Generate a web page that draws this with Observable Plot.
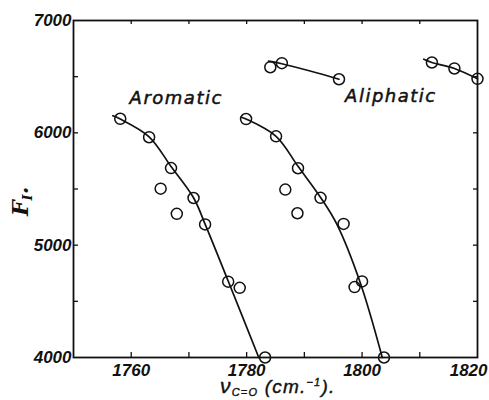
<!DOCTYPE html>
<html><head><meta charset="utf-8">
<script src="https://cdn.jsdelivr.net/npm/d3@7"></script>
<script src="https://cdn.jsdelivr.net/npm/@observablehq/plot@0.6"></script>
<style>
body{margin:0;background:#fff;}
#chart{width:489px;height:400px;}
</style>
</head><body><div id="chart"></div>
<script>
// Left falling series (labelled "Aromatic")
const seriesAV = [1758.1, 1763.1, 1766.9, 1765.1, 1770.8, 1767.9, 1772.8, 1776.8, 1778.8, 1783.2];
const seriesAF = [6125, 5961, 5686, 5503, 5420, 5279, 5185, 4675, 4620, 4000];
const curveAV = [1756.8, 1758.1, 1763.1, 1766.9, 1770.8, 1772.8, 1776.8, 1782.1];
const curveAF = [6152, 6123, 5965, 5700, 5422, 5188, 4681, 4000];
// Middle falling series
const seriesBV = [1779.9, 1785.1, 1788.9, 1786.7, 1792.8, 1788.8, 1796.8, 1798.7, 1800.0, 1803.8];
const seriesBF = [6123, 5969, 5685, 5495, 5421, 5284, 5189, 4627, 4677, 4000];
const curveBV = [1779.2, 1779.9, 1785.1, 1788.9, 1792.9, 1795.6, 1799.7, 1803.5];
const curveBF = [6137, 6123, 5969, 5702, 5418, 5189, 4663, 4000];
// Upper short series ("Aliphatic")
const seriesCV = [1784.1, 1786.1, 1796.0];
const seriesCF = [6584, 6620, 6477];
const curveCV = [1783.8, 1786.1, 1791.0, 1796.0];
const curveCF = [6638, 6615, 6550, 6477];
const seriesDV = [1812.1, 1816.0, 1820.0];
const seriesDF = [6626, 6573, 6481];
const curveDV = [1810.7, 1812.1, 1816.0, 1820.0];
const curveDF = [6655, 6626, 6573, 6481];
// Labels
const labelTexts = ["Aromatic", "Aliphatic"];
const labelV = [1767.8, 1805.0];
const labelF = [6310, 6322];
// Ticks
const xLabelTicks = [1760, 1780, 1800];
const xLastTick = [1820];
const yLabelTicks = [4000, 5000, 6000, 7000];
const xMinorTicks = [1760, 1770, 1780, 1790, 1800, 1810];
const yMinorTicks = [4500, 5000, 5500, 6000, 6500];

const zip = (V, F) => V.map((v, i) => ({v, F: F[i]}));
const ink = "#111";
const tickFont = {fontFamily: "Liberation Sans", fontSize: 17, fontWeight: "bold", fontStyle: "italic", fill: ink};

const chart = Plot.plot({
  width: 489, height: 400,
  marginLeft: 73, marginRight: 12, marginTop: 20, marginBottom: 43,
  x: {domain: [1750, 1820], axis: null},
  y: {domain: [4000, 7000]},
  style: {background: "#fff", color: ink},
  marks: [
    Plot.frame({stroke: ink, strokeWidth: 1.8}),
    Plot.tickX(xMinorTicks, {x: d => d, insetTop: 332, stroke: ink, strokeWidth: 1.3}),
    Plot.tickX(xMinorTicks, {x: d => d, insetBottom: 333, stroke: ink, strokeWidth: 1.3}),
    Plot.tickY(yMinorTicks, {y: d => d, insetRight: 399, stroke: ink, strokeWidth: 1.3}),
    Plot.tickY(yMinorTicks, {y: d => d, insetLeft: 400, stroke: ink, strokeWidth: 1.3}),
    Plot.line(zip(curveAV, curveAF), {x: "v", y: "F", curve: "catmull-rom", stroke: ink, strokeWidth: 1.7}),
    Plot.line(zip(curveBV, curveBF), {x: "v", y: "F", curve: "catmull-rom", stroke: ink, strokeWidth: 1.7}),
    Plot.line(zip(curveCV, curveCF), {x: "v", y: "F", curve: "catmull-rom", stroke: ink, strokeWidth: 1.7}),
    Plot.line(zip(curveDV, curveDF), {x: "v", y: "F", curve: "catmull-rom", stroke: ink, strokeWidth: 1.7}),
    Plot.dot(zip(seriesAV, seriesAF), {x: "v", y: "F", r: 5.5, stroke: ink, strokeWidth: 1.5, fill: "none"}),
    Plot.dot(zip(seriesBV, seriesBF), {x: "v", y: "F", r: 5.5, stroke: ink, strokeWidth: 1.5, fill: "none"}),
    Plot.dot(zip(seriesCV, seriesCF), {x: "v", y: "F", r: 5.5, stroke: ink, strokeWidth: 1.5, fill: "none"}),
    Plot.dot(zip(seriesDV, seriesDF), {x: "v", y: "F", r: 5.5, stroke: ink, strokeWidth: 1.5, fill: "none"}),
    Plot.text(labelTexts, {x: (d, i) => labelV[i], y: (d, i) => labelF[i], text: d => d,
      fontFamily: "DejaVu Sans", fontStyle: "oblique", fontSize: 18, fill: ink, stroke: ink, strokeWidth: 0.5}),
    Plot.text(xLabelTicks, {x: d => d, frameAnchor: "bottom", lineAnchor: "top", dy: 6, text: d => String(d), ...tickFont}),
    Plot.text(xLastTick, {x: d => d, frameAnchor: "bottom", lineAnchor: "top", dy: 6, dx: 10, textAnchor: "end", text: d => String(d), ...tickFont}),
    Plot.axisY({ticks: yLabelTicks, tickSize: 0, tickPadding: 2, label: null, tickFormat: d => String(d), ...tickFont})
  ]
});
document.getElementById("chart").appendChild(chart);

const svg = d3.select(chart);
svg.selectAll("text").filter(function() { return labelTexts.includes(this.textContent); })
  .style("letter-spacing", "1.5px");

// x-axis title
const xl = svg.append("text").attr("x", 220).attr("y", 393).attr("text-anchor", "start")
  .attr("font-family", "Liberation Sans").attr("font-style", "italic")
  .attr("font-size", 19).attr("fill", ink).attr("stroke", ink).attr("stroke-width", 0.4)
  .style("letter-spacing", "1.2px");
xl.append("tspan").text("ν").attr("font-size", 21);
xl.append("tspan").text("C=O").attr("font-size", 11).attr("dy", 3);
xl.append("tspan").text(" (cm.").attr("dy", -3);
xl.append("tspan").text("−1").attr("font-size", 11).attr("dy", -7);
xl.append("tspan").text(").").attr("dy", 7);

// y-axis title
const yl = svg.append("text").attr("transform", "translate(28,216) rotate(-90)").attr("text-anchor", "start")
  .attr("font-family", "DejaVu Serif").attr("font-style", "italic").attr("font-weight", "bold")
  .attr("font-size", 22).attr("fill", ink);
yl.append("tspan").text("F");
yl.append("tspan").text("I").attr("font-size", 13).attr("dy", 4);
yl.append("tspan").text(".").attr("dy", -4);
</script>
</body></html>
